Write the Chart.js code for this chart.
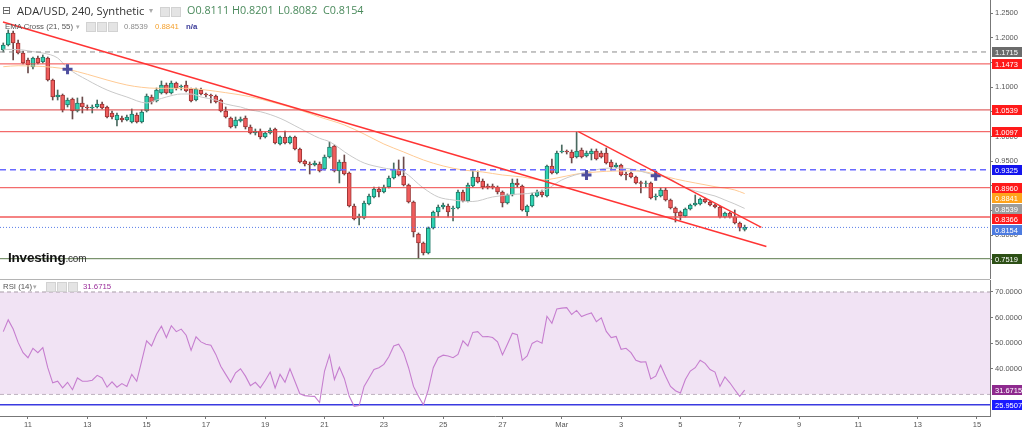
<!DOCTYPE html>
<html>
<head>
<meta charset="utf-8">
<script src="https://cdn.jsdelivr.net/npm/chart.js@4.4.1/dist/chart.umd.min.js"></script>
<style>
    body { margin: 0; background: #fff; }
    #wrap { position: relative; width: 1024px; height: 433px; overflow: hidden; font-family: "Liberation Sans", Arial, sans-serif; }
    canvas { position: absolute; left: 0; }
    #price { top: 0; }
    #rsi { top: 280px; }
    .t { position: absolute; white-space: nowrap; line-height: 1; }
    .ic { position: absolute; width: 8px; height: 8px; background: #e4e4e4; border: 1px solid #d2d2d2; }
    #sep { position: absolute; left: 0; top: 279px; width: 990px; height: 1px; background: #b4b4b4; }
</style>
</head>
<body>
<div id="wrap">
    <canvas id="price" width="1024" height="279"></canvas>
    <div id="sep"></div>
    <canvas id="rsi" width="1024" height="153"></canvas>

    <div class="t" style="left:2px;top:5px;font-family:'DejaVu Sans';font-size:11px;color:#555">⊟</div>
    <div class="t" style="left:17px;top:5px;font-family:'Open Sans';font-size:11.2px;color:#333">ADA/USD, 240, Synthetic</div>
    <div class="t" style="left:149px;top:7px;font-size:8px;color:#aaa">▾</div>
    <div class="ic" style="left:160px;top:7px"></div>
    <div class="ic" style="left:171px;top:7px"></div>
    <div class="t" style="left:187px;top:5px;font-family:'Open Sans';font-size:10.8px;color:#4a8a5c">O0.8111</div>
    <div class="t" style="left:232px;top:5px;font-family:'Open Sans';font-size:10.8px;color:#4a8a5c">H0.8201</div>
    <div class="t" style="left:278px;top:5px;font-family:'Open Sans';font-size:10.8px;color:#4a8a5c">L0.8082</div>
    <div class="t" style="left:323px;top:5px;font-family:'Open Sans';font-size:10.8px;color:#4a8a5c">C0.8154</div>

    <div class="t" style="left:5px;top:23px;font-size:7.8px;color:#555">EMA Cross (21, 55)</div>
    <div class="t" style="left:76px;top:23px;font-size:7px;color:#aaa">▾</div>
    <div class="ic" style="left:86px;top:22px"></div>
    <div class="ic" style="left:97px;top:22px"></div>
    <div class="ic" style="left:108px;top:22px"></div>
    <div class="t" style="left:124px;top:23px;font-size:7.8px;color:#8a8a8a">0.8539</div>
    <div class="t" style="left:155px;top:23px;font-size:7.8px;color:#f5a12e">0.8841</div>
    <div class="t" style="left:186px;top:23px;font-size:7.8px;color:#3a3a98;font-weight:bold">n/a</div>

    <div class="t" style="left:8px;top:251px;font-size:13.5px;font-weight:bold;color:#111;letter-spacing:-0.2px">Investing<span style="font-size:10px;font-weight:normal;color:#333">.com</span></div>

    <div class="t" style="left:3px;top:283px;font-size:7.8px;color:#555">RSI (14)</div>
    <div class="t" style="left:33px;top:283px;font-size:7px;color:#aaa">▾</div>
    <div class="ic" style="left:46px;top:282px"></div>
    <div class="ic" style="left:57px;top:282px"></div>
    <div class="ic" style="left:68px;top:282px"></div>
    <div class="t" style="left:83px;top:283px;font-size:7.8px;color:#9b2f9b">31.6715</div>
</div>

<script>
// 4h candles, x axis in days of Feb 2022 (Mar 1 = 29)
const firstCandleDay = 10 + 1 / 6;
const candleStep = 1 / 6;

const opens = [1.1755,1.1857,1.2100,1.1897,1.1694,1.1552,1.1410,1.1593,1.1512,1.1593,
    1.1146,1.0801,1.0842,1.0639,1.0761,1.0517,1.0680,1.0598,1.0578,1.0598,
    1.0659,1.0598,1.0477,1.0335,1.0375,1.0335,1.0294,1.0436,1.0294,1.0517,
    1.0801,1.0720,1.0883,1.1045,1.0883,1.1085,1.1004,1.1045,1.0964,1.0740,
    1.0943,1.0862,1.0842,1.0822,1.0740,1.0517,1.0375,1.0213,1.0314,1.0375,
    1.0192,1.0071,1.0111,0.9990,1.0071,1.0152,0.9847,0.9990,0.9868,0.9990,
    0.9746,0.9502,0.9441,0.9421,0.9441,0.9340,0.9583,0.9807,0.9299,0.9482,
    0.9259,0.8589,0.8345,0.8345,0.8630,0.8772,0.8934,0.8873,0.8975,0.9157,
    0.9340,0.9198,0.9015,0.8670,0.8021,0.7838,0.7635,0.8142,0.8467,0.8569,
    0.8589,0.8528,0.8548,0.8873,0.8690,0.8995,0.9178,0.9096,0.8995,0.8995,
    0.8975,0.8873,0.8650,0.8812,0.9056,0.8995,0.8467,0.8589,0.8792,0.8873,
    0.8792,0.9401,0.9259,0.9685,0.9705,0.9685,0.9583,0.9726,0.9604,0.9644,
    0.9705,0.9665,0.9665,0.9482,0.9380,0.9421,0.9238,0.9259,0.9177,0.9066,
    0.9046,0.9056,0.8772,0.8792,0.8914,0.8711,0.8548,0.8467,0.8386,0.8528,
    0.8609,0.8629,0.8731,0.8670,0.8609,0.8569,0.8366,0.8447,0.8366,0.8244,
    0.8111];
const highs = [1.1898,1.2161,1.2141,1.1958,1.1735,1.1593,1.1613,1.1633,1.1654,1.1613,
    1.1166,1.0943,1.0862,1.0781,1.0781,1.0781,1.0801,1.0639,1.0639,1.0740,
    1.0700,1.0619,1.0517,1.0477,1.0416,1.0436,1.0558,1.0477,1.0537,1.0862,
    1.0842,1.0984,1.1126,1.1085,1.1126,1.1105,1.1045,1.1126,1.0984,1.0984,
    1.0984,1.0883,1.0862,1.0842,1.0761,1.0598,1.0395,1.0395,1.0395,1.0416,
    1.0233,1.0152,1.0152,1.0091,1.0172,1.0172,1.0010,1.0111,1.0010,1.0010,
    0.9766,0.9523,0.9482,0.9502,0.9482,0.9624,0.9888,0.9827,0.9523,0.9624,
    0.9279,0.8629,0.8427,0.8690,0.8833,0.8975,0.8975,0.9015,0.9198,0.9462,
    0.9523,0.9583,0.9035,0.8690,0.8041,0.7858,0.8163,0.8487,0.8609,0.8650,
    0.8629,0.8589,0.8914,0.8914,0.9056,0.9299,0.9299,0.9137,0.9035,0.9035,
    0.8995,0.8894,0.8833,0.9137,0.9137,0.9015,0.8609,0.8853,0.8914,0.8914,
    0.9421,0.9543,0.9705,0.9827,0.9726,0.9726,1.0091,0.9766,0.9705,0.9746,
    0.9746,0.9705,0.9766,0.9523,0.9462,0.9441,0.9279,0.9279,0.9198,0.9096,
    0.9096,0.9076,0.8833,0.8954,0.8954,0.8731,0.8569,0.8487,0.8548,0.8629,
    0.8812,0.8751,0.8751,0.8690,0.8629,0.8589,0.8467,0.8467,0.8508,0.8264,
    0.8201];
const lows = [1.1714,1.1837,1.1552,1.1674,1.1471,1.1288,1.1370,1.1471,1.1491,1.1126,
    1.0740,1.0740,1.0497,1.0598,1.0355,1.0497,1.0477,1.0537,1.0477,1.0578,
    1.0558,1.0375,1.0355,1.0213,1.0294,1.0314,1.0274,1.0274,1.0274,1.0497,
    1.0659,1.0700,1.0862,1.0862,1.0862,1.0943,1.0943,1.0903,1.0700,1.0720,
    1.0842,1.0801,1.0680,1.0680,1.0497,1.0375,1.0172,1.0172,1.0294,1.0152,
    1.0050,1.0030,0.9949,0.9969,1.0050,0.9847,0.9827,0.9847,0.9847,0.9726,
    0.9462,0.9401,0.9238,0.9401,0.9279,0.9320,0.9563,0.9279,0.9056,0.9218,
    0.8569,0.8305,0.8203,0.8325,0.8609,0.8751,0.8772,0.8853,0.8954,0.9137,
    0.9198,0.8995,0.8650,0.7960,0.7534,0.7594,0.7615,0.8122,0.8366,0.8528,
    0.8366,0.8285,0.8528,0.8670,0.8670,0.8975,0.9056,0.8934,0.8934,0.8934,
    0.8833,0.8569,0.8629,0.8792,0.8975,0.8487,0.8386,0.8569,0.8772,0.8772,
    0.8772,0.9238,0.9238,0.9665,0.9644,0.9462,0.9563,0.9563,0.9583,0.9523,
    0.9523,0.9563,0.9441,0.9319,0.9360,0.9198,0.9116,0.9157,0.9035,0.8853,
    0.8975,0.8731,0.8711,0.8772,0.8690,0.8528,0.8264,0.8305,0.8366,0.8508,
    0.8589,0.8609,0.8650,0.8589,0.8548,0.8345,0.8345,0.8345,0.8224,0.8082,
    0.8082];
const closes = [1.1857,1.2100,1.1897,1.1694,1.1491,1.1451,1.1593,1.1491,1.1613,1.1146,
    1.0801,1.0842,1.0537,1.0740,1.0517,1.0680,1.0598,1.0578,1.0598,1.0659,
    1.0578,1.0395,1.0395,1.0436,1.0335,1.0395,1.0456,1.0294,1.0497,1.0822,
    1.0700,1.0943,1.1045,1.0883,1.1085,1.0984,1.1024,1.0923,1.0720,1.0964,
    1.0862,1.0842,1.0822,1.0700,1.0517,1.0395,1.0192,1.0335,1.0355,1.0192,
    1.0071,1.0111,0.9990,1.0071,1.0132,0.9868,0.9990,0.9868,0.9990,0.9746,
    0.9482,0.9441,0.9421,0.9462,0.9299,0.9583,0.9787,0.9299,0.9482,0.9238,
    0.8589,0.8325,0.8386,0.8650,0.8792,0.8934,0.8873,0.8975,0.9157,0.9340,
    0.9218,0.9015,0.8670,0.8061,0.7838,0.7635,0.8142,0.8467,0.8569,0.8609,
    0.8467,0.8548,0.8873,0.8690,0.9015,0.9178,0.9076,0.8975,0.8975,0.8975,
    0.8873,0.8650,0.8812,0.9056,0.9015,0.8508,0.8589,0.8812,0.8873,0.8812,
    0.9401,0.9259,0.9665,0.9705,0.9685,0.9563,0.9705,0.9583,0.9665,0.9705,
    0.9543,0.9583,0.9462,0.9380,0.9421,0.9218,0.9218,0.9177,0.9056,0.9046,
    0.9056,0.8752,0.8792,0.8914,0.8711,0.8548,0.8447,0.8386,0.8528,0.8609,
    0.8650,0.8731,0.8670,0.8609,0.8569,0.8366,0.8447,0.8366,0.8244,0.8142,
    0.8154];

// EMA readings (candle index, value)
const ema21Idx = [0,4,6,8,11,13,17,21,25,29,31,33,36,38,40,43,45,48,50,52,56,60,64,66,70,73,77,81,85,88,91,95,99,103,107,110,113,118,123,127,131,135,137,140,144,146,148,150];
const ema21 = [1.1769,1.1755,1.1721,1.1694,1.1593,1.1390,1.1146,1.0943,1.0801,1.0680,1.0740,1.0801,1.0862,1.0862,1.0801,1.0740,1.0659,1.0598,1.0537,1.0503,1.0369,1.0166,0.9963,0.9894,0.9624,0.9462,0.9360,0.9279,0.8954,0.8772,0.8711,0.8680,0.8772,0.8822,0.8853,0.8934,0.9117,0.9279,0.9360,0.9340,0.9238,0.9137,0.9015,0.8894,0.8792,0.8711,0.8630,0.8539];
const ema55Idx = [0,3,6,10,13,17,21,25,28,31,33,37,41,45,50,55,60,64,69,73,77,81,85,89,93,97,101,105,109,112,116,120,124,128,132,136,140,144,148,150];
const ema55 = [1.1416,1.1436,1.1430,1.1404,1.1363,1.1262,1.1146,1.1045,1.0998,1.0978,1.0978,1.0978,1.0943,1.0889,1.0807,1.0680,1.0537,1.0395,1.0233,1.0050,0.9847,0.9685,0.9523,0.9401,0.9320,0.9279,0.9218,0.9178,0.9117,0.9157,0.9238,0.9279,0.9299,0.9299,0.9238,0.9137,0.9056,0.8981,0.8914,0.8841];
const crossIdx = [13, 118, 132];
const crossVals = [1.1363, 0.9218, 0.9204];

const rsi = [54.5,59.1,55.5,50.3,46.3,44.3,48.0,46.3,48.3,40.4,
    34.5,35.1,32.5,34.7,31.8,36.4,35.1,35.1,35.5,37.4,
    36.4,32.8,34.9,32.8,34.2,33.1,37.8,35.1,43.0,50.9,
    48.9,53.5,56.6,52.2,56.8,54.5,55.5,53.1,47.2,52.5,
    50.5,49.6,49.2,45.6,41.0,37.8,34.7,38.4,40.0,37.1,
    33.4,34.7,32.5,35.4,38.7,32.5,37.8,34.7,40.0,35.1,
    30.2,29.5,29.3,29.2,26.8,39.1,45.3,35.8,40.6,36.2,
    29.2,25.3,25.6,33.1,36.4,39.7,40.4,41.7,44.7,48.9,
    49.6,46.3,40.4,33.1,29.2,25.9,31.8,40.4,44.3,45.3,
    45.0,44.3,45.6,50.9,48.9,54.2,54.5,52.5,52.6,52.2,
    50.5,45.4,49.6,53.9,53.3,43.3,45.0,49.9,50.9,50.0,
    60.5,57.8,63.4,63.7,63.9,61.2,62.8,60.4,61.2,61.8,
    58.4,59.9,54.6,52.2,52.6,47.6,48.0,46.3,43.3,42.6,
    42.7,36.0,37.1,41.4,37.1,33.1,31.4,30.5,35.8,39.1,
    40.4,43.3,42.1,39.7,38.7,33.1,36.8,34.5,31.8,29.2,
    31.67];

// horizontal levels and trendlines (day, price)
const levels = [1.1715, 1.1473, 1.0539, 1.0097, 0.9325, 0.8960, 0.8366, 0.8154, 0.7519];
const trend1 = [[10.155, 1.2323], [35.90, 0.7767]];
const trend2 = [[29.557, 1.0097], [35.73, 0.8157]];
const emaLast = [0.8841, 0.8539];
const rsiLevels = [70, 30];
const rsiLow = 25.9507;
const rsiLast = 31.6715;

const priceTicks = [0.75, 0.80, 0.85, 0.90, 0.95, 1.00, 1.05, 1.10, 1.15, 1.20, 1.25];
const rsiTicks = [40, 50, 60, 70];
const dayTicks = [11, 13, 15, 17, 19, 21, 23, 25, 27, 29, 31, 33, 35, 37, 39, 41, 43];
const dayLabels = ['11', '13', '15', '17', '19', '21', '23', '25', '27', 'Mar', '3', '5', '7', '9', '11', '13', '15'];

// view ranges (pixel edges of the panels)
const X_MIN = 10.056, X_MAX = 43.44;
const P_MIN = 0.7107, P_MAX = 1.277;
const R_MIN = 21.52, R_MAX = 74.69;

const FONT = '"Liberation Sans", Arial, sans-serif';
const times = opens.map((_, i) => firstCandleDay + i * candleStep);
const isUp = opens.map((o, i) => closes[i] >= o);

const levelStyles = [
    { color: '#8a8a8a', dash: [5, 4], width: 1, badge: '#6b6b6b' },
    { color: '#f04848', dash: [], width: 1, badge: '#ff1a1a' },
    { color: '#d84040', dash: [], width: 1, badge: '#ff1a1a' },
    { color: '#f04848', dash: [], width: 1, badge: '#ff1a1a' },
    { color: '#6a6aff', dash: [6, 4], width: 1.5, badge: '#1414ee' },
    { color: '#f04848', dash: [], width: 1, badge: '#ff1a1a' },
    { color: '#f25a5a', dash: [], width: 1.5, badge: '#ff1a1a' },
    { color: '#5b7fe8', dash: [1, 2], width: 1, badge: '#4d7be0' },
    { color: '#5c7a4c', dash: [], width: 1, badge: '#2d5016' }
];

function hLine(value, style) {
    return {
        type: 'line',
        data: [{ x: X_MIN, y: value }, { x: X_MAX, y: value }],
        borderColor: style.color,
        borderWidth: style.width,
        borderDash: style.dash,
        pointRadius: 0,
        order: 0
    };
}

function segment(points, color) {
    return {
        type: 'line',
        data: points.map(p => ({ x: p[0], y: p[1] })),
        borderColor: color,
        borderWidth: 1.4,
        pointRadius: 0,
        order: 0
    };
}

// axis badges drawn through the y scale, pushed apart when they overlap
function badgePlugin(items) {
    return {
        id: 'badges',
        afterDraw(chart) {
            const ctx = chart.ctx;
            const yScale = chart.scales.y;
            const left = chart.chartArea.right + 1;
            const placed = items
                .map(b => ({ ...b, py: yScale.getPixelForValue(b.value) }))
                .sort((a, b) => a.py - b.py);
            for (let i = 1; i < placed.length; i++) {
                if (placed[i].py < placed[i - 1].py + 10.5) placed[i].py = placed[i - 1].py + 10.5;
            }
            ctx.save();
            ctx.font = '7.5px ' + FONT;
            ctx.textBaseline = 'middle';
            placed.forEach(b => {
                ctx.fillStyle = b.color;
                ctx.fillRect(left + 1, Math.round(b.py) - 5, 30, 10);
                ctx.fillStyle = '#fff';
                ctx.fillText(b.value.toFixed(4), left + 4, Math.round(b.py) + 0.5);
            });
            ctx.restore();
        }
    };
}

const priceBadges = levels.map((v, i) => ({ value: v, color: levelStyles[i].badge }))
    .concat([{ value: emaLast[0], color: '#ffa31a' }, { value: emaLast[1], color: '#9c9c9c' }]);

const priceDatasets = [
    {
        type: 'bar',
        data: times.map((t, i) => ({ x: t, y: [Math.min(opens[i], closes[i]), Math.max(opens[i], closes[i])] })),
        backgroundColor: isUp.map(u => u ? '#2fd3b3' : '#f05c5c'),
        borderColor: isUp.map(u => u ? '#1f7a68' : '#9c3434'),
        borderWidth: 1,
        borderSkipped: false,
        barThickness: 4,
        grouped: false,
        order: 2
    },
    {
        type: 'bar',
        data: times.map((t, i) => ({ x: t, y: [lows[i], highs[i]] })),
        backgroundColor: isUp.map(u => u ? '#4a6a60' : '#6a4a4a'),
        borderWidth: 0,
        barThickness: 1,
        grouped: false,
        order: 3
    },
    {
        type: 'line',
        data: ema21Idx.map((k, i) => ({ x: times[k], y: ema21[i] })),
        borderColor: '#c9c9c9',
        borderWidth: 1,
        pointRadius: 0,
        cubicInterpolationMode: 'monotone',
        order: 1
    },
    {
        type: 'line',
        data: ema55Idx.map((k, i) => ({ x: times[k], y: ema55[i] })),
        borderColor: '#ffca94',
        borderWidth: 1,
        pointRadius: 0,
        cubicInterpolationMode: 'monotone',
        order: 1
    },
    segment(trend1, '#ff3434'),
    segment(trend2, '#ff3434'),
    {
        type: 'line',
        showLine: false,
        data: crossIdx.map((k, i) => ({ x: times[k], y: crossVals[i] })),
        pointStyle: 'cross',
        pointRadius: 5,
        pointBorderWidth: 3,
        pointBorderColor: '#4e4e9e',
        order: 0
    }
].concat(levels.map((v, i) => hLine(v, levelStyles[i])));

new Chart(document.getElementById('price'), {
    type: 'bar',
    data: { datasets: priceDatasets },
    options: {
        responsive: false,
        animation: false,
        events: [],
        layout: { padding: 0, autoPadding: false },
        plugins: { legend: { display: false }, tooltip: { enabled: false } },
        scales: {
            x: { type: 'linear', min: X_MIN, max: X_MAX, offset: false, display: false },
            y: {
                position: 'right',
                min: P_MIN,
                max: P_MAX,
                beginAtZero: false,
                afterBuildTicks: s => { s.ticks = priceTicks.map(v => ({ value: v })); },
                afterFit: s => { s.width = 34; s.paddingTop = 0; s.paddingBottom = 0; },
                ticks: { callback: v => v.toFixed(4), color: '#555', padding: 2, font: { size: 7.5, family: FONT } },
                grid: { drawOnChartArea: false, drawTicks: true, tickLength: 3, color: '#777' },
                border: { display: true, color: '#777' }
            }
        }
    },
    plugins: [badgePlugin(priceBadges)]
});

new Chart(document.getElementById('rsi'), {
    type: 'line',
    data: {
        datasets: [
            {
                data: times.map((t, i) => ({ x: t, y: rsi[i] })),
                borderColor: '#c67ecf',
                borderWidth: 1.1,
                pointRadius: 0,
                order: 0
            },
            {
                data: [{ x: X_MIN, y: rsiLevels[0] }, { x: X_MAX, y: rsiLevels[0] }],
                borderColor: '#a89ca8',
                borderWidth: 1,
                borderDash: [4, 3],
                pointRadius: 0,
                fill: { value: rsiLevels[1] },
                backgroundColor: 'rgba(236, 218, 240, 0.75)',
                order: 1
            },
            {
                data: [{ x: X_MIN, y: rsiLevels[1] }, { x: X_MAX, y: rsiLevels[1] }],
                borderColor: '#a89ca8',
                borderWidth: 1,
                borderDash: [4, 3],
                pointRadius: 0,
                order: 1
            },
            {
                data: [{ x: X_MIN, y: rsiLow }, { x: X_MAX, y: rsiLow }],
                borderColor: '#3a3ae0',
                borderWidth: 1.5,
                pointRadius: 0,
                order: 1
            }
        ]
    },
    options: {
        responsive: false,
        animation: false,
        events: [],
        layout: { padding: 0, autoPadding: false },
        plugins: { legend: { display: false }, tooltip: { enabled: false } },
        scales: {
            x: {
                type: 'linear',
                min: X_MIN,
                max: X_MAX,
                afterBuildTicks: s => { s.ticks = dayTicks.map(v => ({ value: v })); },
                afterFit: s => { s.height = 17; s.paddingLeft = 0; s.paddingRight = 0; },
                ticks: {
                    autoSkip: false,
                    maxRotation: 0,
                    padding: 1,
                    color: '#555',
                    font: { size: 7.5, family: FONT },
                    callback: (v, i) => dayLabels[i]
                },
                grid: { drawOnChartArea: false, drawTicks: true, tickLength: 3, color: '#777' },
                border: { display: true, color: '#777' }
            },
            y: {
                position: 'right',
                min: R_MIN,
                max: R_MAX,
                afterBuildTicks: s => { s.ticks = rsiTicks.map(v => ({ value: v })); },
                afterFit: s => { s.width = 34; s.paddingTop = 0; s.paddingBottom = 0; },
                ticks: { callback: v => v.toFixed(4), color: '#555', padding: 2, font: { size: 7.5, family: FONT } },
                grid: { drawOnChartArea: false, drawTicks: true, tickLength: 3, color: '#777' },
                border: { display: true, color: '#777' }
            }
        }
    },
    plugins: [badgePlugin([{ value: rsiLast, color: '#8e2a8e' }, { value: rsiLow, color: '#1a1aff' }])]
});
</script>
</body>
</html>
